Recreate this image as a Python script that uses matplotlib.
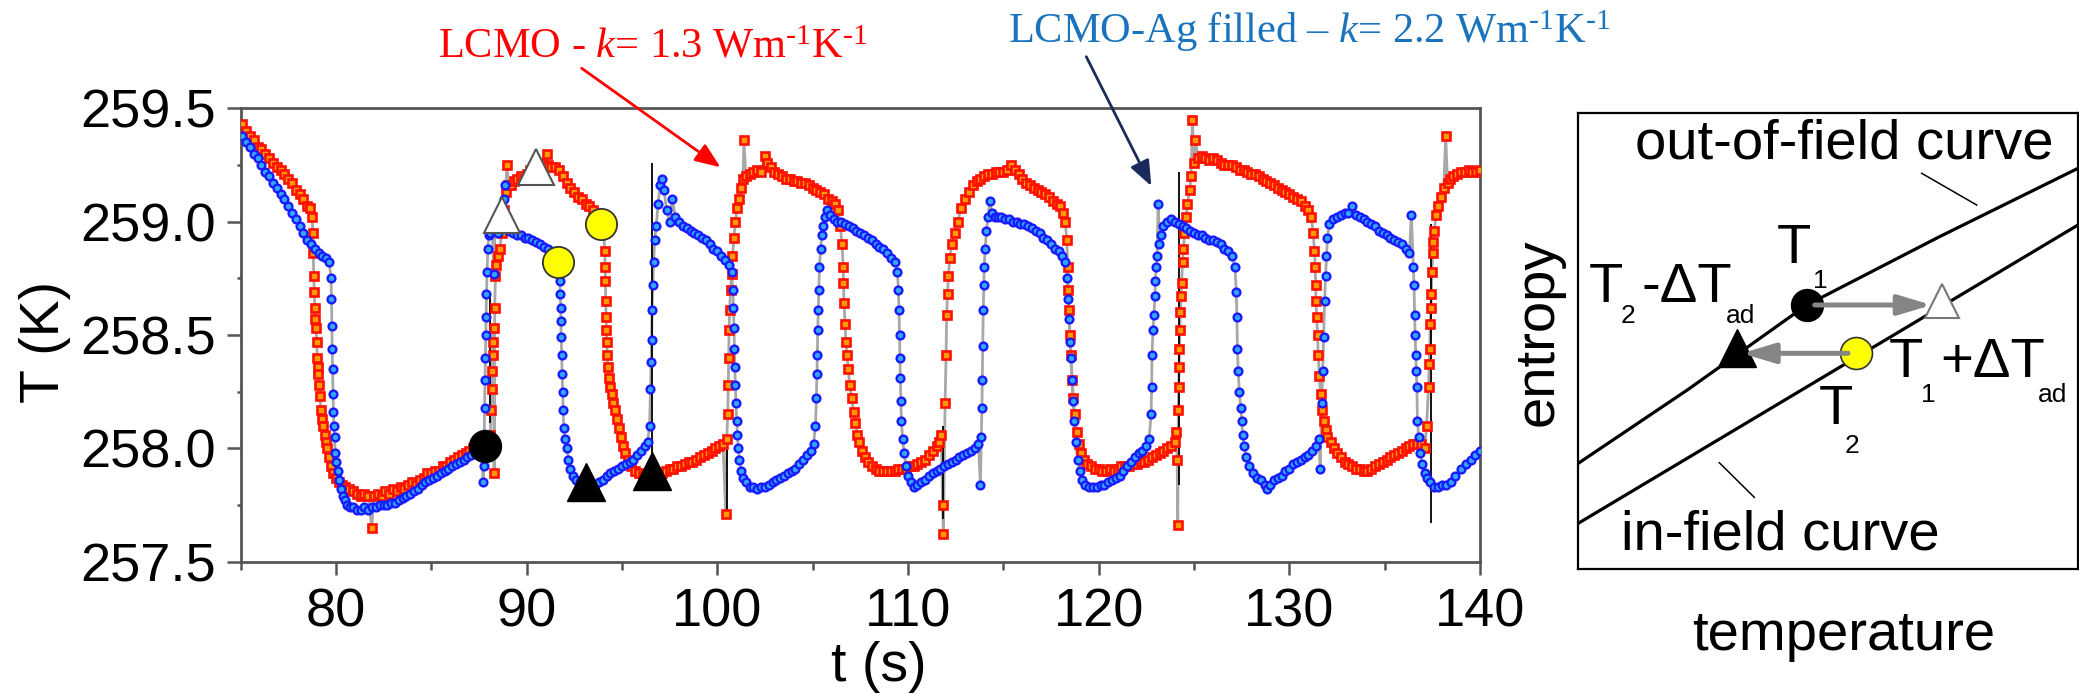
import numpy as np
import matplotlib
matplotlib.use("Agg")
import matplotlib.pyplot as plt

# ---------------------------------------------------------------- data
# LCMO sample: (time s, temperature K)
lcmo_pts = [
    (75.10, 259.43), (75.30, 259.40), (75.50, 259.38), (75.70, 259.36), (75.90, 259.33),
    (76.10, 259.32), (76.30, 259.30), (76.50, 259.28), (76.70, 259.26), (76.90, 259.24),
    (77.10, 259.23), (77.30, 259.21), (77.50, 259.19), (77.70, 259.17), (77.90, 259.14),
    (78.10, 259.12), (78.30, 259.10), (78.50, 259.07), (78.65, 259.06), (78.75, 259.02),
    (78.80, 258.95), (78.82, 258.86), (78.84, 258.76), (78.87, 258.69), (78.89, 258.62),
    (78.93, 258.57), (78.96, 258.53), (79.00, 258.47), (79.02, 258.40), (79.05, 258.36),
    (79.08, 258.33), (79.12, 258.28), (79.16, 258.23), (79.22, 258.17), (79.28, 258.13),
    (79.35, 258.10), (79.42, 258.06), (79.48, 258.03), (79.55, 258.00), (79.65, 257.96),
    (79.75, 257.92), (79.86, 257.89), (80.00, 257.87), (80.15, 257.85), (80.30, 257.84),
    (80.50, 257.83), (80.70, 257.82), (80.90, 257.81),
    (81.10, 257.80), (81.30, 257.79), (81.50, 257.80), (81.70, 257.79), (81.88, 257.65),
    (82.00, 257.79), (82.20, 257.80), (82.40, 257.79), (82.60, 257.81), (82.80, 257.80),
    (83.00, 257.82), (83.20, 257.81), (83.40, 257.83), (83.60, 257.82), (83.80, 257.84),
    (84.00, 257.85), (84.20, 257.84), (84.40, 257.86), (84.60, 257.87), (84.80, 257.89),
    (85.00, 257.89), (85.20, 257.90), (85.40, 257.90), (85.60, 257.92), (85.80, 257.92),
    (86.00, 257.94), (86.20, 257.95), (86.40, 257.96), (86.60, 257.97), (86.80, 257.98),
    (87.00, 257.99), (87.20, 258.00), (87.40, 258.01), (87.60, 258.02), (87.80, 258.03),
    (88.00, 258.03),
    (88.10, 258.06), (88.14, 258.17), (88.17, 258.26), (88.20, 258.34), (88.22, 258.41),
    (88.25, 258.47), (88.27, 258.53), (88.30, 257.89), (88.33, 258.62), (88.37, 258.76),
    (88.41, 258.81), (88.50, 258.85), (88.60, 258.88), (88.70, 258.95), (88.80, 259.05),
    (88.90, 259.13), (88.97, 259.25), (89.05, 259.16), (89.20, 259.16), (89.35, 259.18),
    (89.50, 259.19), (89.70, 259.20), (89.85, 259.19), (90.00, 259.21), (90.20, 259.23),
    (90.40, 259.24), (90.60, 259.25), (90.80, 259.26), (91.05, 259.30), (91.15, 259.25),
    (91.30, 259.24), (91.50, 259.24), (91.70, 259.23), (91.90, 259.20), (92.10, 259.17),
    (92.30, 259.15), (92.50, 259.13), (92.70, 259.11), (92.90, 259.10), (93.10, 259.08),
    (93.30, 259.07), (93.50, 259.05), (93.70, 259.02), (93.90, 259.00),
    (94.05, 258.95), (94.10, 258.87), (94.12, 258.80), (94.14, 258.74), (94.15, 258.65),
    (94.17, 258.58), (94.19, 258.52), (94.21, 258.47), (94.23, 258.41), (94.26, 258.36),
    (94.30, 258.31), (94.37, 258.27), (94.46, 258.24), (94.56, 258.20), (94.66, 258.17),
    (94.76, 258.13), (94.86, 258.09), (94.96, 258.05), (95.06, 258.01), (95.16, 257.98),
    (95.30, 257.95), (95.50, 257.92), (95.70, 257.90), (95.90, 257.89), (96.10, 257.88),
    (96.30, 257.88), (96.50, 257.88), (96.70, 257.88), (96.90, 257.89),
    (97.10, 257.89), (97.30, 257.90), (97.50, 257.91), (97.70, 257.91), (97.90, 257.92),
    (98.10, 257.92), (98.30, 257.93), (98.50, 257.94), (98.70, 257.94), (98.90, 257.95),
    (99.10, 257.96), (99.30, 257.97), (99.50, 257.98), (99.70, 257.99), (99.90, 258.00),
    (100.10, 258.01), (100.30, 258.02), (100.45, 257.71), (100.50, 258.04),
    (100.55, 258.15), (100.58, 258.28), (100.60, 258.40), (100.62, 258.52), (100.65, 258.61),
    (100.70, 258.70), (100.75, 258.77), (100.80, 258.85), (100.88, 258.93), (100.95, 259.00),
    (101.05, 259.06), (101.15, 259.10), (101.25, 259.15), (101.35, 259.19), (101.40, 259.36),
    (101.50, 259.20), (101.70, 259.21), (101.90, 259.22), (102.10, 259.23), (102.30, 259.22),
    (102.50, 259.29), (102.60, 259.26), (102.80, 259.24), (103.00, 259.22), (103.20, 259.21),
    (103.40, 259.20), (103.60, 259.19), (103.80, 259.19), (104.00, 259.18), (104.20, 259.18),
    (104.40, 259.17), (104.60, 259.17), (104.80, 259.16), (105.00, 259.15), (105.20, 259.14),
    (105.40, 259.13), (105.60, 259.12), (105.80, 259.10), (106.00, 259.09), (106.20, 259.08),
    (106.35, 259.05), (106.45, 258.98),
    (106.55, 258.90), (106.60, 258.80), (106.62, 258.73), (106.65, 258.64), (106.70, 258.55),
    (106.75, 258.47), (106.80, 258.41), (106.87, 258.35), (106.95, 258.28), (107.05, 258.22),
    (107.15, 258.16), (107.25, 258.11), (107.35, 258.06), (107.45, 258.03), (107.60, 257.99),
    (107.75, 257.96), (107.90, 257.94), (108.10, 257.92), (108.30, 257.91), (108.50, 257.90),
    (108.70, 257.90), (108.90, 257.90), (109.10, 257.90), (109.30, 257.90), (109.50, 257.91),
    (109.70, 257.91), (109.90, 257.91), (110.10, 257.92), (110.30, 257.92), (110.50, 257.93),
    (110.70, 257.94), (110.90, 257.95), (111.10, 257.97), (111.30, 257.99), (111.50, 258.01),
    (111.65, 258.03), (111.75, 258.06), (111.82, 257.75), (111.86, 257.62),
    (111.95, 258.20), (112.00, 258.41), (112.03, 258.59), (112.08, 258.68), (112.12, 258.76),
    (112.20, 258.84), (112.30, 258.90), (112.45, 258.95), (112.60, 259.00), (112.80, 259.06),
    (113.00, 259.10), (113.20, 259.13), (113.40, 259.16), (113.60, 259.18), (113.80, 259.19),
    (114.00, 259.20), (114.20, 259.21), (114.40, 259.21), (114.60, 259.22), (114.80, 259.22),
    (115.00, 259.22), (115.20, 259.23), (115.40, 259.25), (115.60, 259.23), (115.80, 259.21),
    (116.00, 259.19), (116.20, 259.17), (116.40, 259.16), (116.60, 259.15), (116.80, 259.14),
    (117.00, 259.13), (117.20, 259.12), (117.40, 259.11), (117.60, 259.09), (117.80, 259.08),
    (118.00, 259.07), (118.15, 259.04), (118.25, 259.00),
    (118.33, 258.92), (118.38, 258.80), (118.42, 258.70), (118.45, 258.61), (118.50, 258.50),
    (118.55, 258.41), (118.62, 258.30), (118.68, 258.22), (118.75, 258.15), (118.85, 258.07),
    (118.95, 258.02), (119.10, 257.98), (119.25, 257.95), (119.40, 257.93), (119.60, 257.92),
    (119.80, 257.91), (120.00, 257.91), (120.20, 257.90), (120.40, 257.90), (120.60, 257.91),
    (120.80, 257.90), (121.00, 257.91), (121.20, 257.92), (121.40, 257.92), (121.60, 257.92),
    (121.80, 257.93), (122.00, 257.93), (122.20, 257.94), (122.40, 257.94), (122.60, 257.95),
    (122.80, 257.96), (123.00, 257.97), (123.20, 257.98), (123.40, 257.99), (123.60, 258.00),
    (123.80, 258.01), (124.00, 258.03), (124.07, 258.07), (124.12, 257.95), (124.15, 257.66),
    (124.18, 258.17), (124.20, 258.27), (124.22, 258.36), (124.24, 258.44), (124.26, 258.52),
    (124.28, 258.60), (124.32, 258.67), (124.36, 258.73), (124.40, 258.82), (124.45, 258.88),
    (124.50, 258.95), (124.58, 259.02), (124.66, 259.08), (124.77, 259.14), (124.85, 259.20),
    (124.92, 259.45), (125.00, 259.26), (125.08, 259.36), (125.20, 259.28), (125.40, 259.29),
    (125.60, 259.28), (125.80, 259.27), (126.00, 259.28), (126.20, 259.27), (126.40, 259.26),
    (126.60, 259.25), (126.80, 259.25), (127.00, 259.25), (127.20, 259.24), (127.40, 259.23),
    (127.60, 259.23), (127.80, 259.22), (128.00, 259.21), (128.20, 259.21), (128.40, 259.20),
    (128.60, 259.19), (128.80, 259.18), (129.00, 259.17), (129.20, 259.16), (129.40, 259.15),
    (129.60, 259.14), (129.80, 259.13), (130.00, 259.12), (130.20, 259.11), (130.40, 259.10),
    (130.60, 259.09), (130.80, 259.07), (131.00, 259.05), (131.15, 259.02), (131.25, 258.95),
    (131.32, 258.87),
    (131.36, 258.80), (131.38, 258.72), (131.40, 258.65), (131.44, 258.58), (131.48, 258.50),
    (131.52, 258.41), (131.57, 258.32), (131.64, 258.24), (131.72, 258.17), (131.80, 258.12),
    (131.90, 258.08), (132.00, 258.05), (132.17, 258.03), (132.35, 258.00), (132.50, 257.98),
    (132.70, 257.96), (132.90, 257.94), (133.10, 257.93), (133.30, 257.92), (133.50, 257.91),
    (133.70, 257.91), (133.90, 257.90), (134.10, 257.90), (134.30, 257.91), (134.50, 257.92),
    (134.70, 257.93), (134.90, 257.94), (135.10, 257.95), (135.30, 257.96), (135.50, 257.97),
    (135.70, 257.98), (135.90, 257.99), (136.10, 258.00), (136.30, 258.01), (136.50, 258.02),
    (136.70, 258.02), (136.90, 258.02), (137.10, 258.00), (137.20, 258.10),
    (137.30, 258.27), (137.33, 258.37), (137.36, 258.44), (137.39, 258.55), (137.42, 258.62),
    (137.45, 258.68), (137.48, 258.78), (137.52, 258.86), (137.56, 258.91), (137.60, 258.96),
    (137.70, 259.03), (137.80, 259.07), (137.95, 259.11), (138.10, 259.15), (138.20, 259.38),
    (138.30, 259.17), (138.45, 259.19), (138.60, 259.20), (138.80, 259.21), (139.00, 259.22),
    (139.20, 259.22), (139.40, 259.23), (139.60, 259.22), (139.80, 259.22), (140.00, 259.23),
]

# LCMO-Ag filled sample: (time s, temperature K)
lcmo_ag_pts = [
    (75.10, 259.38), (75.30, 259.35), (75.50, 259.33), (75.70, 259.30), (75.90, 259.28),
    (76.10, 259.25), (76.30, 259.22), (76.50, 259.20), (76.70, 259.17), (76.90, 259.15),
    (77.10, 259.12), (77.30, 259.10), (77.50, 259.07), (77.70, 259.04), (77.90, 259.01),
    (78.10, 258.98), (78.30, 258.95), (78.50, 258.92), (78.70, 258.90), (78.90, 258.88),
    (79.10, 258.86), (79.30, 258.85), (79.50, 258.84), (79.65, 258.82),
    (79.75, 258.75), (79.77, 258.66), (79.79, 258.54), (79.81, 258.44), (79.83, 258.35),
    (79.85, 258.24), (79.87, 258.16), (79.90, 258.10), (79.93, 258.05), (79.97, 257.98),
    (80.03, 257.94), (80.10, 257.90), (80.18, 257.86), (80.27, 257.82), (80.37, 257.79),
    (80.48, 257.77), (80.60, 257.75), (80.75, 257.74), (80.90, 257.74), (81.10, 257.73),
    (81.30, 257.73), (81.50, 257.74), (81.70, 257.73), (81.90, 257.74), (82.10, 257.74),
    (82.30, 257.75), (82.50, 257.75), (82.70, 257.75), (82.90, 257.76), (83.10, 257.76),
    (83.30, 257.77), (83.50, 257.78), (83.70, 257.79), (83.90, 257.80), (84.10, 257.81),
    (84.30, 257.82), (84.50, 257.84), (84.70, 257.85), (84.90, 257.86), (85.10, 257.87),
    (85.30, 257.88), (85.50, 257.89), (85.70, 257.90), (85.90, 257.91), (86.10, 257.92),
    (86.30, 257.93), (86.50, 257.94), (86.70, 257.95), (86.90, 257.96), (87.10, 257.97),
    (87.30, 257.98), (87.50, 257.99), (87.65, 258.00), (87.72, 257.85), (87.76, 257.92),
    (87.80, 258.18), (87.82, 258.30), (87.84, 258.40), (87.86, 258.50), (87.88, 258.58),
    (87.90, 258.68), (87.93, 258.78), (87.97, 258.88), (88.02, 258.94), (88.10, 258.95),
    (88.20, 258.97), (88.28, 258.77), (88.35, 258.96), (88.50, 258.95), (88.65, 259.00),
    (88.80, 259.10), (88.88, 259.16), (88.95, 259.02), (89.10, 258.96), (89.30, 258.95),
    (89.50, 258.94), (89.70, 258.94), (89.90, 258.93), (90.10, 258.93), (90.30, 258.92),
    (90.50, 258.91), (90.70, 258.90), (90.90, 258.89), (91.10, 258.88), (91.30, 258.86),
    (91.50, 258.84), (91.68, 258.82),
    (91.75, 258.74), (91.77, 258.68), (91.79, 258.62), (91.80, 258.56), (91.82, 258.49),
    (91.84, 258.41), (91.86, 258.33), (91.89, 258.25), (91.92, 258.17), (91.95, 258.09),
    (92.00, 258.04), (92.10, 258.00), (92.20, 257.95), (92.30, 257.91), (92.45, 257.88),
    (92.60, 257.86), (92.80, 257.85), (93.00, 257.84), (93.20, 257.84), (93.40, 257.84),
    (93.60, 257.84), (93.80, 257.85), (94.00, 257.86), (94.20, 257.88), (94.40, 257.89),
    (94.60, 257.90), (94.80, 257.91), (95.00, 257.92), (95.20, 257.93), (95.40, 257.94),
    (95.60, 257.95), (95.80, 257.97), (96.00, 257.99), (96.20, 258.01), (96.35, 258.03),
    (96.45, 258.10), (96.50, 258.26), (96.53, 258.38), (96.56, 258.48), (96.58, 258.61),
    (96.62, 258.72), (96.66, 258.82), (96.72, 258.92), (96.80, 258.98), (96.90, 259.08),
    (97.00, 259.16), (97.08, 259.19), (97.20, 259.14), (97.35, 259.05), (97.50, 259.00),
    (97.65, 259.10), (97.80, 259.02), (98.00, 259.00), (98.20, 258.98), (98.40, 258.97),
    (98.60, 258.96), (98.80, 258.95), (99.00, 258.94), (99.20, 258.93), (99.40, 258.92),
    (99.60, 258.90), (99.80, 258.88), (100.00, 258.87), (100.20, 258.85), (100.40, 258.83),
    (100.60, 258.81), (100.75, 258.78),
    (100.82, 258.70), (100.85, 258.62), (100.88, 258.53), (100.90, 258.44), (100.92, 258.36),
    (100.95, 258.28), (100.98, 258.20), (101.02, 258.12), (101.06, 258.06), (101.10, 258.00),
    (101.16, 257.95), (101.24, 257.90), (101.34, 257.87), (101.50, 257.85), (101.70, 257.83),
    (101.90, 257.83), (102.10, 257.82), (102.30, 257.83), (102.50, 257.83), (102.70, 257.84),
    (102.90, 257.85), (103.10, 257.86), (103.30, 257.87), (103.50, 257.88), (103.70, 257.89),
    (103.90, 257.90), (104.10, 257.91), (104.30, 257.93), (104.50, 257.95), (104.70, 257.97),
    (104.90, 257.99), (105.05, 258.02),
    (105.15, 258.10), (105.20, 258.22), (105.23, 258.33), (105.25, 258.41), (105.27, 258.52),
    (105.30, 258.61), (105.33, 258.70), (105.36, 258.80), (105.42, 258.88), (105.48, 258.94),
    (105.56, 258.98), (105.65, 259.02), (105.75, 259.05), (105.90, 259.03), (106.10, 259.01),
    (106.30, 259.00), (106.50, 259.00), (106.70, 258.99), (106.90, 258.98), (107.10, 258.97),
    (107.30, 258.96), (107.50, 258.95), (107.70, 258.94), (107.90, 258.93), (108.10, 258.92),
    (108.30, 258.90), (108.50, 258.89), (108.70, 258.88), (108.90, 258.86), (109.10, 258.84),
    (109.30, 258.82), (109.45, 258.78),
    (109.50, 258.70), (109.53, 258.61), (109.56, 258.50), (109.58, 258.40), (109.60, 258.31),
    (109.63, 258.21), (109.66, 258.12), (109.72, 258.04), (109.80, 257.98), (109.90, 257.92),
    (110.03, 257.88), (110.15, 257.85), (110.30, 257.83), (110.50, 257.84), (110.70, 257.85),
    (110.90, 257.86), (111.10, 257.88), (111.30, 257.89), (111.50, 257.90), (111.70, 257.91),
    (111.90, 257.92), (112.10, 257.93), (112.30, 257.94), (112.50, 257.95), (112.70, 257.96),
    (112.90, 257.97), (113.10, 257.98), (113.30, 257.99), (113.50, 258.00), (113.70, 258.02),
    (113.80, 257.84), (113.85, 258.05),
    (113.88, 258.18), (113.90, 258.30), (113.93, 258.45), (113.95, 258.61), (113.98, 258.72),
    (114.00, 258.80), (114.05, 258.88), (114.12, 258.96), (114.20, 259.02), (114.30, 259.09),
    (114.40, 259.04), (114.55, 259.02), (114.70, 259.02), (114.90, 259.02), (115.10, 259.01),
    (115.30, 259.01), (115.50, 259.00), (115.70, 259.00), (115.90, 258.99), (116.10, 258.99),
    (116.30, 258.98), (116.50, 258.97), (116.70, 258.96), (116.90, 258.95), (117.10, 258.93),
    (117.30, 258.92), (117.50, 258.90), (117.70, 258.88), (117.90, 258.87), (118.10, 258.85),
    (118.25, 258.82),
    (118.35, 258.75), (118.40, 258.66), (118.45, 258.57), (118.50, 258.47), (118.55, 258.40),
    (118.60, 258.30), (118.65, 258.21), (118.72, 258.12), (118.80, 258.03), (118.90, 257.95),
    (119.00, 257.90), (119.15, 257.86), (119.30, 257.84), (119.50, 257.83), (119.70, 257.83),
    (119.90, 257.83), (120.10, 257.84), (120.30, 257.84), (120.50, 257.85), (120.70, 257.86),
    (120.90, 257.87), (121.10, 257.88), (121.30, 257.90), (121.50, 257.92), (121.70, 257.94),
    (121.90, 257.96), (122.10, 257.98), (122.30, 257.99), (122.50, 258.01), (122.65, 258.04),
    (122.75, 258.15), (122.78, 258.27), (122.80, 258.41), (122.85, 258.52), (122.90, 258.59),
    (122.95, 258.67), (122.98, 258.74), (123.02, 258.80), (123.07, 258.85), (123.12, 259.08),
    (123.18, 258.90), (123.25, 258.94), (123.40, 258.98), (123.60, 259.00), (123.80, 259.01),
    (124.00, 259.00), (124.20, 258.99), (124.40, 258.98), (124.60, 258.97), (124.80, 258.96),
    (125.00, 258.95), (125.20, 258.94), (125.40, 258.94), (125.60, 258.93), (125.80, 258.92),
    (126.00, 258.92), (126.20, 258.91), (126.40, 258.90), (126.60, 258.88), (126.80, 258.87),
    (127.00, 258.85), (127.15, 258.80),
    (127.22, 258.69), (127.25, 258.58), (127.28, 258.44), (127.32, 258.34), (127.38, 258.25),
    (127.45, 258.18), (127.50, 258.12), (127.55, 258.06), (127.62, 258.01), (127.75, 257.96),
    (127.90, 257.92), (128.10, 257.89), (128.30, 257.87), (128.50, 257.86), (128.70, 257.84),
    (128.85, 257.82), (129.00, 257.84), (129.20, 257.86), (129.40, 257.87), (129.60, 257.88),
    (129.80, 257.90), (130.00, 257.91), (130.20, 257.93), (130.40, 257.94), (130.60, 257.95),
    (130.80, 257.96), (131.00, 257.97), (131.20, 257.99), (131.40, 258.01), (131.55, 258.04),
    (131.62, 257.91),
    (131.70, 258.20), (131.75, 258.34), (131.80, 258.49), (131.85, 258.65), (131.90, 258.76),
    (131.95, 258.85), (132.00, 258.93), (132.10, 258.99), (132.30, 259.01), (132.50, 259.02),
    (132.70, 259.03), (132.90, 259.04), (133.10, 259.04), (133.30, 259.07), (133.50, 259.03),
    (133.70, 259.02), (133.90, 259.01), (134.10, 259.00), (134.30, 258.99), (134.50, 258.98),
    (134.70, 258.96), (134.90, 258.95), (135.10, 258.94), (135.30, 258.93), (135.50, 258.92),
    (135.70, 258.91), (135.90, 258.90), (136.10, 258.88), (136.30, 258.86), (136.40, 259.03),
    (136.50, 258.80),
    (136.54, 258.72), (136.57, 258.59), (136.60, 258.50), (136.63, 258.41), (136.66, 258.34),
    (136.69, 258.27), (136.72, 258.12), (136.78, 258.05), (136.86, 257.98), (136.96, 257.93),
    (137.10, 257.89), (137.24, 257.87), (137.40, 257.85), (137.60, 257.83), (137.80, 257.83),
    (138.00, 257.84), (138.20, 257.84), (138.46, 257.85), (138.70, 257.88), (138.99, 257.91),
    (139.25, 257.93), (139.51, 257.95), (139.75, 257.97), (140.00, 257.99),
]

# transient spikes in the raw thermocouple trace
spike_t = [88.08, 96.56, 100.50, 111.86, 124.20, 137.43]
spike_lo = [258.11, 257.95, 257.71, 257.69, 257.84, 257.67]
spike_hi = [258.67, 259.26, 258.03, 258.10, 259.22, 258.99]

# cycle markers on the measured traces
start_t, start_T = [87.81], [258.01]
peak_t, peak_T = [88.69, 90.52], [259.03, 259.24]
end_t, end_T = [91.66, 93.88], [258.82, 258.99]
cold_t, cold_T = [93.11, 96.60], [257.85, 257.90]

x_major = [80, 90, 100, 110, 120, 130, 140]
x_minor = [75, 85, 95, 105, 115, 125, 135]
y_major = [257.5, 258.0, 258.5, 259.0, 259.5]
y_minor = [257.75, 258.25, 258.75, 259.25]

# schematic S(T) diagram (arbitrary units)
out_field_T = [0, 110, 228, 360, 499.7]
out_field_S = [106, 180, 264, 332, 401]
in_field_T = [0, 499.7]
in_field_S = [46, 344.3]
sch_T1 = (228.4, 264.3)        # black circle
sch_T1_hot = (363.4, 268.5)    # white triangle
sch_T2 = (277.7, 216.0)        # yellow circle
sch_T2_cold = (158.4, 221.8)   # black triangle

# ---------------------------------------------------------------- style
plt.rcParams['font.family'] = ['Liberation Sans', 'DejaVu Sans']
plt.rcParams['mathtext.fontset'] = 'custom'
plt.rcParams['mathtext.rm'] = 'Liberation Serif'
plt.rcParams['mathtext.it'] = 'Liberation Serif:italic'
plt.rcParams['mathtext.bf'] = 'Liberation Serif:bold'

W, H, DPI = 2079, 694, 100
fig = plt.figure(figsize=(W / DPI, H / DPI), dpi=DPI)
fig.patch.set_facecolor('white')


def fx(x):
    return x / W


def fy(y):
    return 1 - y / H


SPINE = '#555555'

# ---------------------------------------------------------------- main panel
ax = fig.add_axes([fx(240.5), fy(561.7), (1480 - 240.5) / W, (561.7 - 108.3) / H])
lt, lT = np.array(lcmo_pts).T
bt, bT = np.array(lcmo_ag_pts).T

ax.plot(lt, lT, '-', color='#a8a8a8', lw=2.0, zorder=2)
ax.plot(bt, bT, '-', color='#a8a8a8', lw=2.0, zorder=2)
ax.vlines(spike_t, spike_lo, spike_hi, color='black', lw=1.3, zorder=2.5)
ax.plot(lt, lT, ls='none', marker='s', ms=5.3, mfc='#ff9a00', mec='#ff1000',
        mew=1.9, zorder=3)
ax.plot(bt, bT, ls='none', marker='o', ms=5.6, mfc='#30a6ff', mec='#1a1aff',
        mew=1.7, zorder=4)

ax.plot(start_t, start_T, ls='none', marker='o', ms=23, mfc='black', mec='black', zorder=6)
ax.plot(peak_t, peak_T, ls='none', marker='^', ms=26, mfc='white', mec='#555555',
        mew=1.5, zorder=6)
ax.plot(end_t, end_T, ls='none', marker='o', ms=22.5, mfc='#ffff00', mec='#333333',
        mew=1.3, zorder=6)
ax.plot(cold_t, cold_T, ls='none', marker='^', ms=28, mfc='black', mec='black', zorder=6)

ax.set_xlim(75, 140)
ax.set_ylim(257.5, 259.5)
ax.set_xticks(x_major)
ax.set_xticks(x_minor, minor=True)
ax.set_yticks(y_major)
ax.set_yticks(y_minor, minor=True)
ax.set_yticklabels([f'{v:.1f}' for v in y_major])
ax.set_xticklabels([str(v) for v in x_major])
for s in ax.spines.values():
    s.set_color(SPINE)
    s.set_linewidth(2.0)
ax.tick_params(which='both', direction='out', color=SPINE, width=1.8, labelsize=39)
ax.tick_params(axis='x', which='major', length=9.5, pad=9)
ax.tick_params(axis='x', which='minor', length=6)
ax.tick_params(axis='y', which='major', length=10, pad=8)
ax.tick_params(axis='y', which='minor', length=3)

fig.text(fx(45), fy(342), 'T (K)', rotation=90, ha='center', va='center', fontsize=40)
fig.text(fx(879), fy(641), 't (s)', ha='center', va='top', fontsize=40)

# sample annotations
fig.text(fx(438), fy(57.3), 'LCMO - $k$= 1.3 Wm$^{\u20101}$K$^{\u20101}$', color='#ff0000',
         fontsize=30.5, family='Liberation Serif', ha='left', va='baseline')
fig.text(fx(1008), fy(42.7), 'LCMO-Ag filled – $k$= 2.2 Wm$^{\u20101}$K$^{\u20101}$',
         color='#1a73bd', fontsize=30.5, family='Liberation Serif', ha='left', va='baseline')
ax.annotate('', xy=(fx(720.5), fy(167.3)), xytext=(fx(581.7), fy(68.3)),
            xycoords='figure fraction', textcoords='figure fraction', annotation_clip=False,
            arrowprops=dict(arrowstyle='-|>,head_length=0.55,head_width=0.22', color='#ff0000',
                            lw=2.0, mutation_scale=28, shrinkA=0, shrinkB=0))
ax.annotate('', xy=(fx(1151.3), fy(186)), xytext=(fx(1086.3), fy(56.7)),
            xycoords='figure fraction', textcoords='figure fraction', annotation_clip=False,
            arrowprops=dict(arrowstyle='-|>,head_length=0.55,head_width=0.22', color='#1b2a5c',
                            lw=2.0, mutation_scale=28, shrinkA=0, shrinkB=0))

# ---------------------------------------------------------------- schematic panel
ax2 = fig.add_axes([fx(1578.3), fy(569.3), (2078 - 1578.3) / W, (569.3 - 113.3) / H])
ax2.set_xlim(0, 499.7)
ax2.set_ylim(0, 456)
ax2.set_xticks([])
ax2.set_yticks([])
for s in ax2.spines.values():
    s.set_color('black')
    s.set_linewidth(1.6)

ax2.plot(out_field_T, out_field_S, color='black', lw=2.3, zorder=2)
ax2.plot(in_field_T, in_field_S, color='black', lw=2.3, zorder=2)
ax2.plot([343.4, 398.4], [396.0, 364.3], color='black', lw=1.1, zorder=2)
ax2.plot([141.0, 176.0], [106.6, 72.0], color='black', lw=1.1, zorder=2)

ax2.plot(*sch_T1, ls='none', marker='o', ms=23, mfc='black', mec='black', zorder=4)
ax2.plot(*sch_T1_hot, ls='none', marker='^', ms=25, mfc='white', mec='#777777', mew=1.5,
         zorder=4)
ax2.plot(*sch_T2, ls='none', marker='o', ms=23, mfc='#ffff00', mec='#333333', mew=1.2,
         zorder=4)
ax2.plot(*sch_T2_cold, ls='none', marker='^', ms=27, mfc='black', mec='black', zorder=4)

arrow_kw = dict(arrowstyle='-|>,head_length=1.0,head_width=0.3', color='#858585', lw=3.6,
                mutation_scale=20, shrinkA=0, shrinkB=0)
ax2.annotate('', xy=(353.4, sch_T1[1]), xytext=(sch_T1[0] + 8, sch_T1[1]),
             arrowprops=arrow_kw, zorder=5)
ax2.annotate('', xy=(163.4, sch_T2[1]), xytext=(sch_T2[0] - 8, sch_T2[1]),
             arrowprops=arrow_kw, zorder=5)

TXT = 40.5
SUB = 19
fig.text(fx(1635), fy(158.3), 'out-of-field curve', fontsize=TXT, ha='left', va='baseline')
fig.text(fx(1621), fy(549.3), 'in-field curve', fontsize=TXT, ha='left', va='baseline')
fig.text(fx(1777), fy(263), 'T', fontsize=TXT, ha='left', va='baseline')
fig.text(fx(1813), fy(288), '1', fontsize=SUB, ha='left', va='baseline')
fig.text(fx(1589), fy(302), 'T', fontsize=TXT, ha='left', va='baseline')
fig.text(fx(1621), fy(323), '2', fontsize=SUB, ha='left', va='baseline')
fig.text(fx(1641), fy(302), '-ΔT', fontsize=TXT, ha='left', va='baseline')
fig.text(fx(1726), fy(323), 'ad', fontsize=SUB, ha='left', va='baseline')
fig.text(fx(1889), fy(376.7), 'T', fontsize=TXT, ha='left', va='baseline')
fig.text(fx(1921), fy(402), '1', fontsize=SUB, ha='left', va='baseline')
fig.text(fx(1940), fy(376.7), '+ΔT', fontsize=TXT, ha='left', va='baseline')
fig.text(fx(2038), fy(402), 'ad', fontsize=SUB, ha='left', va='baseline')
fig.text(fx(1819), fy(424), 'T', fontsize=TXT, ha='left', va='baseline')
fig.text(fx(1845), fy(453), '2', fontsize=SUB, ha='left', va='baseline')
fig.text(fx(1539), fy(332), 'entropy', rotation=90, fontsize=TXT, ha='center', va='center')
fig.text(fx(1844), fy(650), 'temperature', fontsize=TXT, ha='center', va='baseline')

fig.savefig('out.png', dpi=DPI, facecolor='white')
